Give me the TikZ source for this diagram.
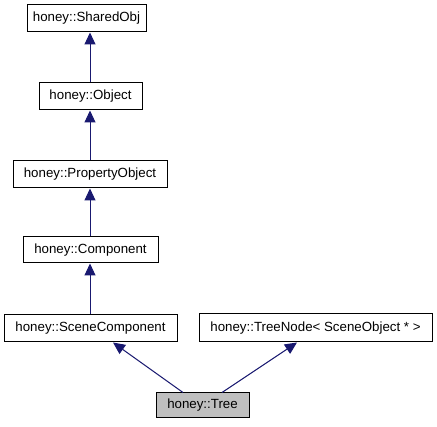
\documentclass[tikz,border=0pt]{standalone}
\usepackage{fontspec}
\setmainfont{Liberation Sans}
\usetikzlibrary{arrows.meta}
\definecolor{edgeblue}{HTML}{191970}
\definecolor{treegray}{HTML}{BFBFBF}
\begin{document}
\begin{tikzpicture}[x=1pt,y=-1pt,
  cls/.style={draw=black,line width=1pt,fill=white,inner sep=0pt,
    font=\fontsize{13.3}{15}\selectfont},
  edge/.style={draw=edgeblue,line width=1pt,-{Triangle[length=12pt,width=11pt]}}]
\useasboundingbox (0,0) rectangle (437,427);
\node[cls,minimum width=119pt,minimum height=27pt] (shared) at (86.5,18.5) {honey::SharedObj};
\node[cls,minimum width=103pt,minimum height=27pt] (object) at (90.5,96.5) {honey::Object};
\node[cls,minimum width=154pt,minimum height=27pt] (prop) at (90,174.5) {honey::PropertyObject};
\node[cls,minimum width=135pt,minimum height=26pt] (comp) at (90.5,250) {honey::Component};
\node[cls,minimum width=173pt,minimum height=27pt] (scomp) at (90.5,328.5) {honey::SceneComponent};
\node[cls,minimum width=233pt,minimum height=28pt] (tnode) at (315.5,328) {honey::TreeNode< SceneObject * >};
\node[cls,fill=treegray,minimum width=93pt,minimum height=25pt] (tree) at (202.5,405.5) {honey::Tree};
\draw[edge] ([xshift=-0.5pt]object.north) -- ([xshift=-0.5pt]object.north |- shared.south);
\draw[edge] (prop.north) -- (prop.north |- object.south);
\draw[edge] ([xshift=-0.5pt]comp.north) -- ([xshift=-0.5pt]comp.north |- prop.south);
\draw[edge] ([xshift=-0.5pt]scomp.north) -- ([xshift=-0.5pt]scomp.north |- comp.south);
\draw[edge] ([xshift=-19.5pt]tree.north) -- ([xshift=22.5pt]scomp.south);
\draw[edge] ([xshift=19.5pt]tree.north) -- ([xshift=-18.5pt]tnode.south);
\end{tikzpicture}
\end{document}
